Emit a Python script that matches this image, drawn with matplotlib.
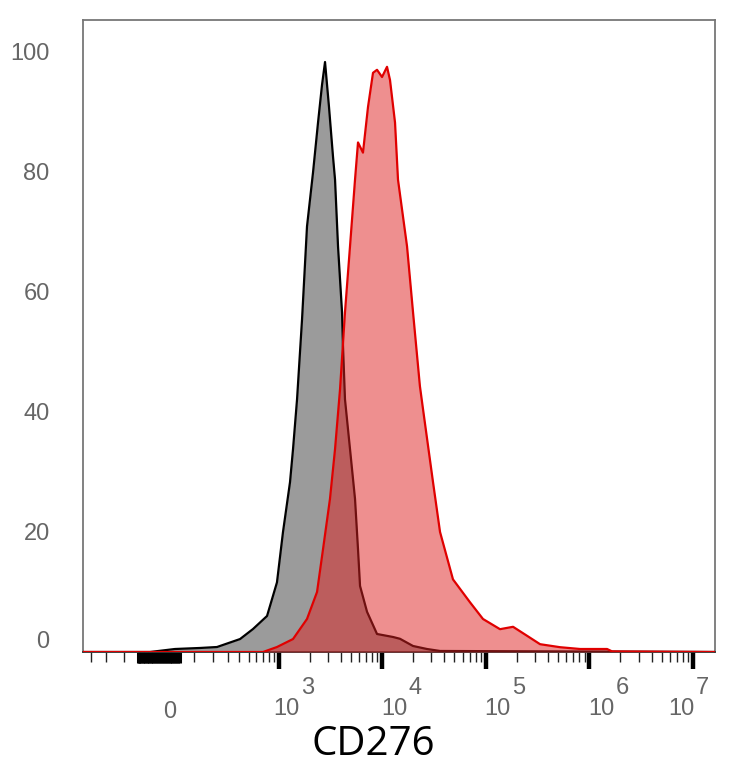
import numpy as np
import matplotlib
matplotlib.use("Agg")
import matplotlib.pyplot as plt
import matplotlib.transforms as mtransforms

# isotype control (gray) - fluorescence vs % of max
iso_x = [-609, -83, 20, 129, 224, 408, 555, 767, 961, 1101, 1289, 1379, 1509,
         1687, 1885, 2156, 2410, 2635, 2817, 3078, 3366, 3520, 3762, 4113,
         4204, 4392, 4912, 5490, 5868, 6138, 7171, 8953, 12780, 14920, 19930,
         27180, 36310, 16350000]
iso_y = [0, 0, 0.5, 0.67, 0.83, 2.16, 3.83, 6.0, 11.6, 20.0, 28.3, 33.8, 42.1,
         55.4, 70.9, 79.9, 88.2, 94.5, 98.3, 90.8, 82.5, 78.7, 67.6, 56.6,
         50.9, 42.1, 33.8, 25.5, 17.1, 11.0, 6.7, 3.0, 2.5, 2.2, 1.0,
         0.5, 0.17, 0]

# CD276 stained (red)
cd_x = [-609, 700, 961, 1379, 1885, 2358, 2693, 3145, 3520, 3935, 4392, 4912,
        5490, 5868, 6552, 7326, 8190, 8953, 10010, 11180, 11950, 13360, 14270,
        17440, 19930, 23220, 24910, 31070, 36310, 48420, 70560, 94320,
        137700, 184000, 251100, 335200, 522000, 815000, 1485000, 1660000,
        16350000]
cd_y = [0, 0, 0.83, 2.16, 5.5, 10.0, 17.1, 25.5, 33.8, 43.8, 56.6, 67.6,
        78.7, 84.9, 83.2, 90.8, 96.5, 97.0, 95.8, 97.5, 95.3, 88.2, 78.7,
        67.6, 56.6, 44.3, 40.4, 28.3, 20.0, 12.1, 8.3, 5.5,
        3.8, 4.2, 2.7, 1.3, 0.8, 0.5, 0.5, 0.1,
        0]

decades = [3, 4, 5, 6, 7]
y_ticks = [0, 20, 40, 60, 80, 100]

W = 180.0


def fwd(x):
    return np.arcsinh(np.asarray(x, dtype=float) / W)


def inv(u):
    return W * np.sinh(np.asarray(u, dtype=float))


fig = plt.figure(figsize=(7.34, 7.68), dpi=100)
ax = fig.add_axes([83 / 734, 116 / 768, 632 / 734, 632 / 768])
ax.set_xscale('function', functions=(fwd, inv))
ax.set_xlim(-609, 16350000)
ax.set_ylim(0, 105.3)

ax.fill_between(iso_x, iso_y, color='#9b9b9b', lw=0, zorder=2)
ax.plot(iso_x, iso_y, color='black', lw=1.6, zorder=3)
ax.fill_between(cd_x, cd_y, color=(0.87, 0.13, 0.13), alpha=0.5, lw=0, zorder=4)
ax.plot(cd_x, cd_y, color=(0.88, 0.0, 0.0), lw=1.6, zorder=5)

for s in ['left', 'top', 'right']:
    ax.spines[s].set_color('#777777')
    ax.spines[s].set_linewidth(1.3)
ax.spines['bottom'].set_color('#333333')
ax.spines['bottom'].set_linewidth(1.3)

# x ticks
major = [10 ** d for d in decades]
minor = []
for d in [2, 3, 4, 5, 6]:
    for m in range(2, 10):
        minor.append(m * 10 ** d)
minor += [100, -220, -350, -500]
ax.set_xticks(major)
ax.set_xticklabels([''] * len(major))
ax.set_xticks(minor, minor=True)
ax.tick_params(axis='x', which='major', length=12, width=3.2, color='black')
ax.tick_params(axis='x', which='minor', length=7, width=1.0, color='#222222')

# dense ticks of the linear region around zero
lin_ticks = list(range(-140, 44, 6))
trans = mtransforms.blended_transform_factory(ax.transData, ax.transAxes)
ax.vlines(lin_ticks, -11 / 632, 0, transform=trans, color='black', lw=2.2,
          clip_on=False)

lab_kw = dict(xycoords=('data', 'axes fraction'), textcoords='offset pixels',
              fontsize=17, color='#666666', family='Liberation Sans',
              ha='center', va='center')
ax.annotate('0', xy=(0, 0), xytext=(0, -60), **lab_kw)
offs = {3: 8, 4: 12, 5: 12, 6: 12, 7: -11}
for d in decades:
    o = offs[d]
    ax.annotate('10', xy=(10 ** d, 0), xytext=(o, -57), **lab_kw)
    ax.annotate(str(d), xy=(10 ** d, 0), xytext=(o + 21, -36), **lab_kw)

# y ticks
ax.set_yticks(y_ticks)
ax.set_yticklabels([str(v) for v in y_ticks], fontsize=17, color='#666666',
                   family='Liberation Sans')
ax.tick_params(axis='y', length=0, pad=24)
lbl0 = ax.get_yticklabels()[0]
lbl0.set_transform(lbl0.get_transform() +
                   mtransforms.ScaledTranslation(0, 13 / 100, fig.dpi_scale_trans))

fig.text(373 / 734, 1 - 745 / 768, 'CD276', fontsize=29, family='Open Sans',
         ha='center', va='center', color='black')

fig.savefig('out.png', dpi=100)
